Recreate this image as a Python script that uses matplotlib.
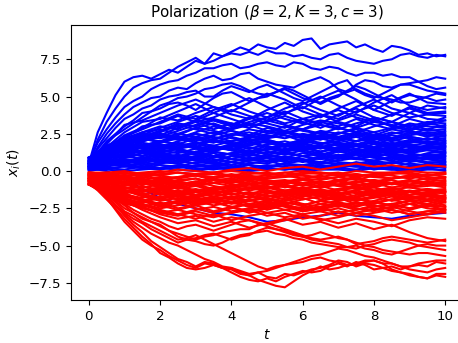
import numpy as np
import matplotlib
matplotlib.use('Agg')
import matplotlib.pyplot as plt

# blue group (opinions drift positive); each line is sampled evenly on t in [0, 10]
blue_outer = [
    [0.5, 2.6, 3.9, 5.1, 6.0, 6.3, 6.4, 6.2, 6.5, 6.8, 6.6, 7.0, 7.4, 7.2, 7.9, 7.7, 8.0, 8.3, 8.1, 8.5, 8.3,
     8.2, 8.6, 8.4, 8.8, 8.9, 8.2, 8.5, 8.6, 8.7, 8.3, 8.5, 8.2, 8.0, 8.4, 8.3, 8.1, 7.8, 7.9, 7.7, 7.8],
    [0.4, 2.1, 3.3, 4.2, 5.0, 5.6, 5.9, 6.1, 6.2, 6.6, 7.0, 7.3, 7.6, 7.2, 7.4, 7.7, 7.9, 7.8, 8.0, 7.8, 8.1,
     7.9, 7.9, 7.7, 7.8, 7.6, 7.5, 7.8, 7.9, 7.6, 7.4, 7.3, 7.2, 7.4, 7.5, 7.8, 7.9, 7.7, 7.6, 7.8, 7.7],
    [0.6, 1.9, 2.8, 3.6, 4.3, 4.7, 5.0, 5.5, 5.8, 6.0, 6.1, 6.4, 6.6, 6.9, 6.9, 7.1, 7.2, 6.9, 7.0, 7.2, 7.3,
     7.1, 7.0, 7.3, 7.2, 6.9, 6.8, 7.0, 6.9, 6.6, 6.4, 6.6, 6.6, 6.4, 6.5, 6.3, 6.3, 6.0, 6.1, 6.3, 6.2],
    [0.3, 1.6, 2.5, 3.2, 3.8, 4.3, 4.6, 4.9, 5.0, 5.4, 5.6, 5.5, 5.9, 6.2, 6.4, 6.1, 6.2, 6.5, 6.6, 6.2, 6.0,
     5.8, 5.7, 5.6, 5.9, 6.1, 6.3, 6.0, 5.5, 5.3, 5.8, 6.1, 6.0, 5.7, 5.6, 5.8, 5.9, 6.0, 5.7, 5.5, 5.6],
    [0.7, 1.5, 2.2, 2.9, 3.5, 3.8, 4.2, 4.4, 4.8, 5.0, 5.1, 5.3, 5.4, 5.0, 5.0, 5.4, 5.7, 5.5, 5.3, 5.6, 5.8,
     5.5, 5.2, 4.9, 4.7, 5.0, 5.3, 5.6, 5.9, 6.1, 5.4, 5.1, 4.9, 5.2, 5.5, 5.8, 5.8, 5.6, 5.4, 5.3, 5.2],
    [0.2, 1.2, 2.0, 2.5, 3.0, 3.4, 3.9, 4.0, 4.2, 4.5, 4.6, 4.4, 4.1, 4.5, 4.9, 5.2, 5.3, 5.0, 4.7, 4.9, 5.0,
     5.3, 5.6, 5.4, 5.1, 4.8, 4.5, 4.8, 5.0, 5.4, 5.7, 5.5, 5.2, 4.9, 4.6, 4.9, 5.1, 5.0, 4.9, 4.7, 4.8],
    [0.5, 1.3, 1.9, 2.4, 2.8, 3.2, 3.6, 4.0, 4.4, 4.6, 4.9, 5.0, 5.2, 5.5, 5.6, 5.8, 5.9, 5.7, 5.4, 5.2, 5.1,
     5.3, 5.5, 5.2, 4.9, 4.7, 4.6, 4.9, 5.1, 5.3, 5.5, 5.2, 5.0, 4.9, 4.8, 4.6, 4.6, 4.8, 5.0, 5.2, 5.1],
    [0.8, 1.8, 3.1, 3.4, 3.9, 4.4, 4.8, 4.3, 4.0, 4.6, 5.2, 4.8, 4.2, 4.9, 5.4, 4.8, 4.1, 4.7, 5.2, 4.6, 4.5],
    [0.5, 1.6, 2.6, 3.3, 3.5, 4.0, 4.5, 3.9, 4.4, 4.9, 4.3, 3.8, 4.5, 5.0, 4.4, 3.9, 4.6, 5.1, 4.4, 4.1, 4.3],
    [0.1, 1.5, 2.4, 2.9, 3.6, 3.4, 3.9, 4.3, 3.8, 3.5, 4.1, 4.6, 4.0, 3.6, 4.2, 4.7, 4.1, 3.7, 4.3, 3.9, 4.0],
    [0.9, 1.7, 2.2, 3.0, 3.2, 3.7, 3.3, 3.6, 4.1, 3.7, 3.4, 3.9, 4.3, 3.8, 3.5, 4.0, 4.4, 3.9, 3.6, 3.8, 3.7],
    [0.4, 1.4, 2.0, 2.6, 3.0, 2.8, 3.4, 3.9, 3.5, 3.1, 3.6, 4.0, 3.5, 3.2, 3.8, 4.2, 3.6, 3.3, 3.9, 3.5, 3.4],
    [0.6, 1.3, 1.9, 2.3, 2.7, 3.2, 3.0, 3.4, 3.1, 3.6, 3.2, 2.9, 3.5, 3.8, 3.3, 3.0, 3.6, 3.3, 3.0, 3.3, 3.2],
    [0.3, 1.2, 2.1, 2.5, 2.4, 2.9, 3.3, 2.8, 3.2, 2.9, 3.4, 3.1, 2.8, 3.3, 3.0, 3.5, 3.1, 2.8, 3.2, 3.0, 2.9],
    [0.2, 0.0, -0.5, -1.2, -1.8, -2.2, -2.5, -2.8, -2.9, -3.1, -3.4, -3.3, -3.1, -3.0, -2.8, -3.0, -3.1, -3.2, -3.0, -2.9, -2.8],
]
blue_inner = [
    [0.0, 0.2, 0.1, 0.3, 0.2, 0.4, 0.2, 0.1, 0.3, 0.2, 0.4, 0.3, 0.1, 0.2, 0.4, 0.3, 0.2, 0.1, 0.3, 0.2, 0.3],
    [0.2, 0.5, 0.3, 0.6, 0.4, 0.3, 0.6, 0.5, 0.3, 0.5, 0.7, 0.4, 0.3, 0.6, 0.5, 0.4, 0.6, 0.3, 0.5, 0.4, 0.5],
    [0.4, 0.7, 0.5, 0.8, 0.6, 0.9, 0.7, 0.5, 0.8, 0.6, 0.5, 0.8, 0.7, 0.9, 0.6, 0.5, 0.7, 0.9, 0.6, 0.8, 0.6],
    [0.6, 0.9, 1.1, 0.8, 0.7, 1.0, 0.9, 1.2, 0.8, 0.7, 1.0, 0.9, 0.6, 0.9, 1.1, 0.8, 0.7, 1.0, 0.8, 0.9, 0.8],
    [0.8, 1.0, 0.9, 1.2, 1.1, 0.9, 1.3, 1.0, 1.2, 1.4, 1.1, 0.9, 1.2, 1.0, 1.3, 1.1, 0.9, 1.2, 1.0, 1.1, 1.0],
    [0.3, 1.1, 1.3, 1.0, 1.4, 1.2, 1.5, 1.3, 1.1, 1.4, 1.2, 1.5, 1.3, 1.1, 1.4, 1.2, 1.5, 1.3, 1.2, 1.4, 1.2],
    [0.5, 1.2, 1.5, 1.3, 1.6, 1.4, 1.2, 1.6, 1.5, 1.3, 1.7, 1.4, 1.6, 1.3, 1.5, 1.7, 1.4, 1.2, 1.5, 1.6, 1.4],
    [0.7, 1.4, 1.7, 1.5, 1.8, 1.6, 1.9, 1.5, 1.7, 2.0, 1.6, 1.4, 1.8, 1.6, 1.9, 1.7, 1.5, 1.8, 1.6, 1.7, 1.6],
    [0.9, 1.5, 1.9, 1.7, 2.0, 1.8, 1.6, 2.1, 1.9, 1.7, 2.0, 1.8, 2.1, 1.9, 1.7, 2.0, 2.2, 1.8, 1.9, 2.0, 1.8],
    [0.6, 1.6, 2.0, 2.2, 1.9, 2.3, 2.1, 1.9, 2.3, 2.0, 2.2, 2.4, 2.0, 1.8, 2.2, 2.0, 2.3, 2.1, 1.9, 2.2, 2.0],
    [0.8, 1.7, 2.1, 2.4, 2.2, 2.5, 2.3, 2.6, 2.2, 2.0, 2.4, 2.2, 2.5, 2.3, 2.1, 2.4, 2.6, 2.2, 2.3, 2.1, 2.2],
    [0.4, 1.5, 2.2, 2.6, 2.8, 2.5, 2.9, 2.7, 2.4, 2.8, 2.6, 3.0, 2.7, 2.5, 2.9, 2.6, 2.4, 2.8, 2.6, 2.5, 2.4],
    [0.9, 1.3, 1.6, 1.2, 1.5, 1.9, 1.6, 1.3, 1.7, 1.5, 1.8, 2.0, 1.7, 1.5, 1.8, 1.5, 1.3, 1.6, 1.8, 1.5, 1.5],
    [0.2, 0.6, 0.9, 1.2, 0.9, 0.7, 1.0, 1.3, 1.1, 0.8, 1.1, 1.3, 1.0, 1.2, 0.9, 1.2, 1.4, 1.1, 0.9, 1.2, 1.3],
    [0.7, 0.5, 0.8, 0.6, 0.9, 1.1, 0.8, 0.6, 1.0, 1.2, 0.9, 0.7, 1.0, 0.8, 1.1, 0.9, 1.2, 1.0, 0.7, 1.0, 0.9],
    [0.5, 0.9, 1.4, 1.7, 2.0, 1.8, 2.2, 2.0, 1.8, 2.1, 1.9, 1.7, 2.0, 2.3, 2.1, 1.8, 2.1, 2.4, 2.2, 1.9, 2.1],
    [0.3, 1.0, 1.8, 2.1, 2.5, 2.3, 2.0, 2.4, 2.7, 2.4, 2.2, 2.6, 2.3, 2.1, 2.5, 2.8, 2.4, 2.2, 2.6, 2.3, 2.7],
    [0.6, 1.2, 1.4, 1.8, 1.6, 2.0, 2.3, 2.1, 2.5, 2.3, 2.7, 2.4, 2.2, 2.6, 2.3, 2.0, 2.4, 2.1, 2.5, 2.8, 2.6],
    [0.1, 0.4, 0.7, 0.5, 0.8, 0.6, 0.9, 0.7, 1.0, 0.8, 0.6, 0.9, 0.7, 1.0, 0.8, 1.1, 0.9, 0.7, 1.0, 0.8, 0.7],
    [0.8, 1.1, 1.0, 1.4, 1.7, 1.5, 1.2, 1.5, 1.8, 1.6, 1.4, 1.7, 1.9, 1.6, 1.4, 1.7, 1.9, 1.6, 1.4, 1.7, 1.9],
    [0.4, 0.8, 1.2, 1.6, 2.0, 2.4, 2.9, 3.2, 2.8, 3.1, 2.7, 2.5, 2.8, 3.1, 2.9, 2.6, 3.0, 3.3, 2.9, 2.7, 2.8],
    [0.6, 1.0, 1.6, 2.2, 2.6, 3.1, 2.8, 2.5, 2.9, 3.3, 3.6, 3.2, 3.5, 3.1, 2.8, 3.2, 3.5, 3.0, 2.7, 3.1, 3.4],
    [0.2, 0.9, 1.5, 2.0, 2.3, 2.7, 3.1, 3.5, 3.2, 2.9, 3.3, 3.7, 3.3, 2.9, 3.4, 3.8, 3.4, 3.0, 3.5, 3.2, 3.6],
    [0.9, 1.2, 1.9, 2.4, 2.9, 3.3, 3.7, 3.4, 3.0, 3.5, 3.9, 3.5, 3.2, 3.7, 4.1, 3.6, 3.3, 3.8, 4.2, 3.8, 3.9],
    [0.5, 1.3, 2.3, 2.8, 3.3, 3.8, 3.5, 4.1, 4.5, 4.0, 3.6, 4.2, 4.6, 4.1, 3.7, 4.3, 4.8, 4.2, 3.9, 4.4, 4.2],
    [0.1, 0.1, 0.0, 0.1, 0.2, 0.1, 0.0, 0.2, 0.1, 0.0, 0.1, 0.2, 0.0, 0.1, 0.1, 0.0, 0.2, 0.1, 0.0, 0.1, 0.1],
    [0.3, 0.6, 0.4, 0.3, 0.5, 0.7, 0.5, 0.3, 0.6, 0.4, 0.2, 0.5, 0.7, 0.4, 0.3, 0.6, 0.4, 0.6, 0.8, 0.5, 0.4],
    [0.5, 0.8, 1.1, 1.4, 1.2, 1.0, 1.3, 1.6, 1.4, 1.1, 1.5, 1.7, 1.4, 1.6, 1.3, 1.5, 1.8, 1.5, 1.3, 1.6, 1.7],
    [0.7, 1.3, 1.8, 2.0, 2.3, 2.1, 2.5, 2.3, 2.0, 2.2, 2.5, 2.7, 2.4, 2.2, 2.6, 2.4, 2.1, 2.5, 2.7, 2.4, 2.3],
    [0.9, 1.4, 1.2, 1.6, 1.9, 2.2, 1.9, 1.7, 2.0, 2.3, 2.1, 1.8, 2.1, 2.4, 2.2, 2.5, 2.2, 2.0, 2.3, 2.1, 2.4],
    [0.2, 0.7, 1.0, 0.8, 1.1, 1.3, 1.1, 0.9, 1.2, 1.0, 1.3, 1.1, 1.4, 1.2, 1.0, 1.3, 1.1, 1.4, 1.2, 1.0, 1.1],
    [0.6, 1.1, 1.7, 2.3, 2.7, 3.0, 3.4, 3.1, 2.8, 3.2, 3.0, 2.7, 3.1, 3.4, 3.2, 2.9, 3.3, 3.1, 2.8, 3.2, 3.0],
    [0.4, 1.0, 1.4, 2.0, 2.4, 2.2, 2.6, 3.0, 2.7, 2.4, 2.9, 2.6, 2.3, 2.7, 2.5, 2.9, 2.6, 2.9, 3.1, 2.8, 3.1],
    [0.1, 0.3, 0.5, 0.4, 0.6, 0.5, 0.3, 0.4, 0.6, 0.4, 0.3, 0.5, 0.4, 0.6, 0.4, 0.3, 0.5, 0.6, 0.4, 0.3, 0.4],
    [0.3, 0.8, 0.6, 0.9, 1.1, 0.9, 1.2, 1.0, 0.8, 1.1, 0.9, 1.2, 1.0, 0.8, 1.0, 1.2, 1.0, 0.8, 1.1, 1.0, 1.2],
    [0.5, 1.0, 1.4, 1.2, 1.5, 1.8, 1.5, 1.7, 1.4, 1.2, 1.5, 1.8, 1.6, 1.3, 1.6, 1.8, 1.6, 1.4, 1.7, 1.9, 1.7],
    [0.7, 1.3, 1.6, 1.9, 1.7, 1.5, 1.8, 2.1, 1.8, 2.1, 1.9, 1.6, 1.9, 2.2, 1.9, 1.7, 2.0, 1.8, 2.1, 1.8, 1.9],
    [0.2, 0.4, 0.6, 0.9, 0.7, 0.5, 0.8, 0.6, 0.4, 0.7, 0.9, 0.6, 0.8, 0.5, 0.7, 0.9, 0.7, 0.5, 0.7, 0.6, 0.6],
    [0.9, 1.1, 1.5, 1.3, 1.2, 1.5, 1.7, 1.4, 1.6, 1.9, 1.6, 1.3, 1.5, 1.7, 1.5, 1.3, 1.6, 1.9, 1.7, 1.4, 1.3],
    [0.4, 0.5, 0.4, 0.2, 0.4, 0.2, 0.4, 0.3, 0.2, 0.4, 0.2, 0.1, 0.3, 0.4, 0.2, 0.4, 0.1, 0.3, 0.2, 0.4, 0.2],
    [0.6, 0.9, 1.2, 1.0, 1.3, 1.5, 1.2, 1.4, 1.7, 1.3, 1.5, 1.3, 1.6, 1.3, 1.6, 1.4, 1.2, 1.5, 1.3, 1.5, 1.6],
    [0.8, 1.5, 1.8, 2.2, 2.0, 2.2, 2.5, 2.2, 2.4, 2.6, 2.3, 2.6, 2.8, 2.5, 2.3, 2.6, 2.3, 2.6, 2.4, 2.6, 2.5],
    [0.3, 0.6, 0.8, 0.7, 1.0, 0.8, 1.0, 0.8, 0.6, 0.9, 0.7, 1.0, 0.8, 0.6, 0.9, 0.8, 1.0, 1.2, 0.9, 0.8, 1.0],
    [0.5, 1.1, 1.3, 1.6, 1.4, 1.7, 1.9, 1.7, 1.4, 1.8, 2.1, 1.8, 1.5, 1.8, 2.0, 2.3, 1.9, 1.7, 2.0, 2.2, 2.0],
    [0.1, 0.2, 0.3, 0.2, 0.1, 0.3, 0.1, 0.3, 0.2, 0.1, 0.2, 0.1, 0.2, 0.3, 0.2, 0.1, 0.3, 0.2, 0.1, 0.2, 0.0],
]

# red group (opinions drift negative)
red_outer = [
    [-0.6, -1.0, -1.8, -2.6, -3.4, -4.0, -4.6, -5.0, -5.3, -5.7, -6.0, -6.3, -6.5, -6.2, -6.3, -6.5, -6.6, -6.9, -7.0, -7.3, -7.5,
     -7.7, -7.8, -7.4, -7.0, -6.7, -6.4, -6.6, -6.5, -6.3, -6.2, -6.0, -6.0, -6.2, -6.6, -6.8, -7.0, -7.1, -7.2, -7.0, -7.1],
    [-0.8, -1.3, -1.9, -2.5, -3.2, -3.8, -4.4, -4.9, -5.5, -5.8, -6.2, -6.5, -6.6, -6.5, -6.3, -6.5, -6.8, -7.1, -7.3, -7.4, -7.2,
     -7.4, -7.1, -6.9, -6.7, -6.8, -6.7, -6.4, -6.2, -6.4, -6.1, -6.3, -6.6, -6.5, -6.7, -6.8, -6.9, -7.1, -7.2, -6.9, -6.9],
    [-0.5, -1.1, -1.6, -2.3, -3.0, -3.6, -4.1, -4.7, -5.1, -5.5, -5.9, -6.1, -6.4, -6.1, -6.2, -6.5, -6.5, -6.8, -7.0, -6.8, -7.1,
     -7.2, -6.9, -7.0, -6.8, -6.6, -6.5, -6.3, -6.0, -6.1, -6.4, -6.2, -6.3, -6.5, -6.4, -6.6, -6.4, -6.3, -6.4, -6.1, -6.2],
    [-0.9, -1.2, -1.7, -2.3, -2.9, -3.4, -3.8, -4.2, -4.5, -4.8, -5.0, -5.3, -5.6, -5.9, -6.1, -6.4, -6.5, -6.7, -6.9, -6.8, -6.7,
     -6.5, -6.3, -6.2, -6.1, -5.9, -5.8, -6.0, -6.1, -6.3, -6.3, -6.1, -6.0, -6.2, -6.2, -6.4, -6.4, -6.2, -6.1, -6.0, -6.0],
    [-0.7, -1.1, -1.5, -2.1, -2.7, -3.0, -3.4, -3.7, -4.0, -4.3, -4.6, -4.5, -4.3, -4.6, -4.9, -5.2, -5.5, -5.8, -6.1, -6.4, -6.6,
     -6.4, -6.3, -6.1, -5.9, -5.7, -5.6, -5.4, -5.2, -5.3, -5.5, -5.7, -5.8, -6.0, -6.2, -6.4, -6.6, -6.7, -6.8, -6.6, -6.5],
    [-0.4, -1.0, -1.7, -2.3, -2.8, -3.2, -3.5, -3.9, -4.2, -4.5, -4.8, -4.6, -4.5, -4.3, -4.2, -4.4, -4.6, -4.4, -4.3, -4.0, -3.8,
     -3.9, -4.1, -4.3, -4.4, -4.6, -4.7, -4.8, -4.9, -5.1, -5.2, -5.0, -4.9, -4.7, -4.6, -4.7, -4.8, -5.0, -5.1, -5.2, -5.3],
    [-0.6, -1.0, -1.6, -2.0, -2.5, -2.8, -3.1, -3.4, -3.7, -4.0, -4.2, -4.4, -4.6, -4.4, -4.3, -4.1, -4.0, -3.9, -3.9, -3.6, -3.5,
     -3.7, -3.9, -4.1, -4.3, -4.5, -4.6, -4.5, -4.4, -4.6, -4.9, -4.8, -4.7, -4.5, -4.4, -4.5, -4.6, -4.7, -4.8, -4.7, -4.6],
    [-0.3, -0.9, -1.4, -1.8, -2.2, -2.6, -2.9, -3.2, -3.4, -3.7, -3.9, -3.7, -3.6, -3.8, -4.0, -3.8, -3.6, -3.4, -3.3, -3.5, -3.7,
     -3.9, -4.0, -4.2, -4.4, -4.3, -4.1, -4.3, -4.5, -4.6, -4.8, -5.0, -5.1, -5.3, -5.4, -5.5, -5.6, -5.5, -5.5, -5.6, -5.7],
    [-0.8, -1.1, -1.5, -1.9, -2.3, -2.8, -3.2, -3.4, -3.6, -4.0, -4.4, -4.6, -4.7, -4.9, -5.0, -4.8, -4.5, -4.3, -4.2, -4.1, -4.0,
     -4.2, -4.3, -4.5, -4.6, -4.8, -4.9, -5.0, -5.1, -5.1, -5.0, -5.2, -5.3, -5.5, -5.6, -5.4, -5.2, -5.0, -4.9, -5.0, -5.0],
    [-0.5, -1.3, -2.0, -2.6, -3.1, -3.5, -3.3, -3.7, -3.4, -3.8, -3.5, -3.2, -3.6, -3.4, -3.8, -3.5, -3.9, -3.6, -4.1, -4.5, -4.7],
    [-0.2, -1.2, -1.9, -2.4, -2.9, -3.2, -3.0, -3.4, -3.1, -3.3, -3.6, -3.3, -3.0, -3.2, -3.5, -3.2, -3.4, -3.7, -3.3, -3.1, -3.2],
    [-0.7, -1.1, -1.8, -2.2, -2.7, -2.9, -3.2, -2.9, -3.3, -3.0, -2.8, -3.1, -2.9, -3.3, -3.1, -2.8, -3.0, -3.3, -3.1, -2.9, -2.7],
    [-0.9, -1.4, -2.1, -2.5, -2.8, -2.6, -2.9, -3.1, -2.8, -2.6, -3.0, -2.8, -3.2, -3.0, -2.7, -3.0, -2.8, -2.6, -2.9, -2.7, -2.5],
]
red_inner = [
    [-0.1, -0.2, -0.1, -0.3, -0.2, -0.1, -0.3, -0.2, -0.4, -0.2, -0.1, -0.3, -0.2, -0.1, -0.3, -0.2, -0.4, -0.2, -0.1, -0.3, -0.2],
    [-0.3, -0.4, -0.6, -0.3, -0.5, -0.4, -0.2, -0.5, -0.3, -0.6, -0.4, -0.3, -0.5, -0.6, -0.4, -0.2, -0.4, -0.5, -0.3, -0.4, -0.5],
    [-0.5, -0.7, -0.5, -0.8, -0.6, -0.7, -0.9, -0.6, -0.8, -0.5, -0.7, -0.9, -0.6, -0.8, -0.7, -0.5, -0.8, -0.6, -0.9, -0.7, -0.6],
    [-0.2, -0.8, -1.0, -0.8, -1.1, -0.9, -0.7, -1.0, -1.2, -0.9, -0.8, -1.1, -0.9, -0.7, -1.0, -1.2, -0.9, -0.8, -1.0, -0.9, -1.1],
    [-0.6, -1.0, -1.2, -1.0, -1.3, -1.1, -1.4, -1.2, -1.0, -1.3, -1.1, -1.4, -1.2, -1.0, -1.3, -1.1, -1.4, -1.2, -1.1, -1.3, -1.2],
    [-0.8, -1.2, -1.4, -1.3, -1.5, -1.7, -1.4, -1.3, -1.6, -1.4, -1.7, -1.5, -1.3, -1.6, -1.4, -1.7, -1.5, -1.3, -1.6, -1.4, -1.5],
    [-0.4, -1.3, -1.6, -1.8, -1.5, -1.9, -1.7, -1.5, -1.8, -2.0, -1.7, -1.5, -1.9, -1.7, -1.6, -1.9, -1.7, -2.0, -1.8, -1.6, -1.8],
    [-0.7, -1.5, -1.9, -2.1, -1.8, -2.2, -2.0, -1.8, -2.1, -1.9, -2.3, -2.0, -1.8, -2.2, -2.0, -1.8, -2.1, -2.3, -2.0, -1.9, -2.1],
    [-0.9, -1.6, -2.2, -2.4, -2.1, -2.5, -2.3, -2.0, -2.4, -2.2, -2.0, -2.3, -2.5, -2.2, -2.4, -2.1, -2.3, -2.5, -2.2, -2.0, -2.3],
    [-0.1, -0.5, -0.8, -1.1, -0.9, -1.2, -1.0, -1.3, -1.1, -0.9, -1.2, -1.0, -1.3, -1.5, -1.2, -1.0, -1.3, -1.1, -1.4, -1.2, -1.4],
    [-0.6, -0.9, -0.7, -0.5, -0.8, -1.0, -0.8, -0.6, -0.9, -1.1, -0.9, -0.7, -1.0, -0.8, -0.6, -0.9, -1.1, -0.8, -0.6, -0.9, -0.8],
    [-0.3, -0.9, -1.5, -1.9, -2.3, -2.6, -2.3, -2.7, -2.4, -2.8, -2.5, -2.2, -2.6, -2.4, -2.2, -2.5, -2.7, -2.4, -2.2, -2.5, -2.6],
    [-0.5, -1.1, -1.7, -2.0, -2.4, -2.1, -2.5, -2.8, -2.5, -2.2, -2.6, -2.3, -2.7, -2.5, -2.3, -2.6, -2.4, -2.2, -2.5, -2.3, -2.4],
    [-0.8, -1.4, -1.3, -1.6, -1.9, -1.6, -1.4, -1.7, -1.5, -1.8, -1.6, -1.9, -1.7, -1.5, -1.8, -2.0, -1.7, -1.5, -1.8, -1.6, -1.7],
    [-0.2, -0.4, -0.3, -0.6, -0.8, -0.6, -0.5, -0.8, -0.7, -0.5, -0.7, -0.6, -0.8, -0.7, -0.9, -0.7, -0.6, -0.8, -0.7, -0.5, -0.7],
    [-0.4, -0.6, -0.9, -1.2, -1.5, -1.3, -1.6, -1.4, -1.8, -1.5, -1.3, -1.6, -1.4, -1.7, -1.9, -1.6, -1.4, -1.7, -1.9, -1.7, -1.9],
    [-0.7, -1.0, -1.5, -2.0, -2.3, -2.0, -1.8, -2.1, -2.4, -2.7, -2.4, -2.1, -2.3, -2.0, -2.2, -2.4, -2.1, -1.9, -2.2, -2.4, -2.0],
    [-0.9, -1.3, -1.1, -1.4, -1.2, -1.0, -1.3, -1.5, -1.3, -1.1, -1.4, -1.6, -1.4, -1.2, -1.5, -1.3, -1.1, -1.4, -1.6, -1.4, -1.3],
    [-0.2, -0.1, 0.0, -0.2, -0.1, 0.1, 0.0, -0.1, 0.1, 0.2, 0.0, 0.2, 0.3, 0.1, 0.3, 0.5, 0.3, 0.4, 0.2, 0.4, 0.3],
    [-0.5, -0.8, -1.2, -1.0, -1.4, -1.7, -2.0, -1.8, -2.1, -2.3, -2.1, -2.4, -2.7, -2.5, -2.8, -2.6, -2.3, -2.6, -2.9, -2.7, -2.8],
    [-0.6, -1.2, -1.8, -2.3, -2.6, -2.9, -2.6, -2.4, -2.7, -2.5, -2.3, -2.6, -2.9, -2.7, -2.5, -2.8, -2.6, -2.4, -2.7, -2.9, -2.6],
    [-0.1, -0.1, -0.2, -0.1, 0.0, -0.1, -0.2, -0.1, 0.0, -0.1, -0.2, -0.1, 0.0, -0.1, -0.2, 0.0, -0.1, -0.1, 0.0, -0.1, -0.1],
    [-0.4, -0.6, -0.4, -0.7, -0.9, -0.7, -1.0, -0.8, -0.6, -0.9, -0.7, -1.0, -1.2, -0.9, -0.7, -1.0, -0.8, -1.1, -0.9, -0.7, -1.0],
    [-0.6, -1.0, -1.3, -1.6, -1.3, -1.6, -1.8, -1.5, -1.3, -1.6, -1.9, -1.6, -1.4, -1.7, -1.5, -1.3, -1.6, -1.4, -1.7, -1.9, -1.6],
    [-0.8, -1.1, -1.6, -1.9, -2.2, -2.0, -2.3, -2.1, -1.9, -2.2, -2.4, -2.1, -2.3, -2.6, -2.3, -2.1, -2.4, -2.2, -2.0, -2.3, -2.1],
    [-0.3, -0.7, -1.1, -1.4, -1.2, -1.5, -1.3, -1.1, -1.4, -1.2, -1.0, -1.3, -1.1, -1.4, -1.2, -1.5, -1.3, -1.6, -1.4, -1.2, -1.4],
    [-0.5, -0.5, -0.8, -0.6, -0.4, -0.7, -0.5, -0.8, -0.6, -0.4, -0.6, -0.8, -0.5, -0.3, -0.6, -0.4, -0.7, -0.5, -0.3, -0.6, -0.4],
    [-0.9, -1.5, -2.0, -2.4, -2.8, -3.0, -2.7, -3.0, -2.8, -2.5, -2.8, -2.6, -2.4, -2.7, -3.0, -2.8, -2.5, -2.8, -2.6, -2.3, -2.6],
    [-0.2, -0.8, -1.3, -1.7, -2.0, -1.8, -2.1, -1.9, -2.2, -2.0, -1.8, -2.1, -2.3, -2.0, -1.8, -2.2, -2.0, -1.7, -2.0, -2.2, -1.9],
    [-0.1, -0.3, -0.5, -0.4, -0.6, -0.4, -0.3, -0.6, -0.5, -0.3, -0.5, -0.4, -0.3, -0.5, -0.4, -0.6, -0.3, -0.5, -0.4, -0.2, -0.4],
    [-0.3, -0.7, -0.9, -0.7, -1.0, -1.1, -0.9, -1.2, -1.0, -0.8, -1.1, -0.9, -1.2, -1.0, -0.9, -1.2, -1.0, -0.8, -1.1, -1.0, -0.9],
    [-0.5, -1.0, -1.4, -1.2, -1.6, -1.4, -1.7, -1.5, -1.2, -1.6, -1.4, -1.7, -1.5, -1.3, -1.6, -1.8, -1.5, -1.3, -1.6, -1.5, -1.7],
    [-0.7, -1.3, -1.7, -2.0, -1.7, -1.9, -2.2, -1.9, -1.7, -2.0, -1.8, -2.2, -1.9, -1.7, -2.0, -1.8, -2.2, -1.9, -1.7, -2.0, -1.8],
    [-0.2, -0.5, -0.7, -0.9, -0.7, -0.9, -0.7, -0.5, -0.8, -0.6, -0.9, -0.7, -0.5, -0.8, -1.0, -0.8, -0.6, -0.9, -0.7, -0.9, -0.7],
    [-0.9, -1.1, -1.5, -1.3, -1.1, -1.4, -1.6, -1.3, -1.5, -1.8, -1.5, -1.3, -1.6, -1.4, -1.6, -1.4, -1.7, -1.5, -1.3, -1.5, -1.4],
    [-0.4, -0.3, -0.4, -0.2, -0.3, -0.5, -0.3, -0.4, -0.2, -0.4, -0.3, -0.1, -0.3, -0.4, -0.2, -0.4, -0.2, -0.3, -0.5, -0.3, -0.2],
    [-0.6, -0.8, -1.1, -1.3, -1.1, -1.4, -1.2, -1.5, -1.3, -1.1, -1.3, -1.5, -1.2, -1.5, -1.3, -1.1, -1.4, -1.2, -1.4, -1.6, -1.3],
    [-0.8, -1.4, -1.9, -2.2, -2.5, -2.3, -2.0, -2.3, -2.1, -2.4, -2.2, -1.9, -2.2, -2.4, -2.1, -2.3, -2.1, -2.3, -2.5, -2.2, -2.4],
    [-0.3, -0.6, -0.5, -0.8, -0.6, -0.8, -1.0, -0.8, -1.0, -0.7, -0.9, -0.7, -0.9, -1.1, -0.9, -0.7, -1.0, -0.8, -0.6, -0.8, -0.9],
    [-0.5, -1.0, -1.3, -1.5, -1.8, -1.6, -1.9, -1.7, -1.9, -1.7, -2.0, -1.8, -1.6, -1.9, -1.7, -2.0, -1.8, -1.6, -1.9, -1.7, -1.8],
    [-0.1, -0.2, -0.3, -0.2, -0.3, -0.1, -0.2, -0.1, -0.3, -0.1, -0.2, -0.3, -0.1, -0.2, -0.1, -0.3, -0.2, -0.1, -0.2, -0.3, -0.1],
]

fig = plt.figure(figsize=(4.58, 3.43), dpi=100)
ax = fig.add_axes([0.155, 0.125, 0.856, 0.802])

for y in blue_outer + blue_inner:
    ax.plot(np.linspace(0, 10, len(y)), y, color='blue', lw=1.5)
for y in red_outer + red_inner:
    ax.plot(np.linspace(0, 10, len(y)), y, color='red', lw=1.5)

ax.set_xlim(-0.5, 10.5)
ax.set_ylim(-8.66, 9.8)
ax.set_xticks([0, 2, 4, 6, 8, 10])
ax.set_yticks([-7.5, -5.0, -2.5, 0.0, 2.5, 5.0, 7.5])
ax.tick_params(labelsize=9.6)
ax.set_xlabel('$t$', fontsize=10)
ax.set_ylabel('$x_i(t)$', fontsize=10)
ax.set_title(r'Polarization ($\beta=2, K=3, c=3$)', fontsize=10.9)

fig.savefig('out.png', dpi=100)
